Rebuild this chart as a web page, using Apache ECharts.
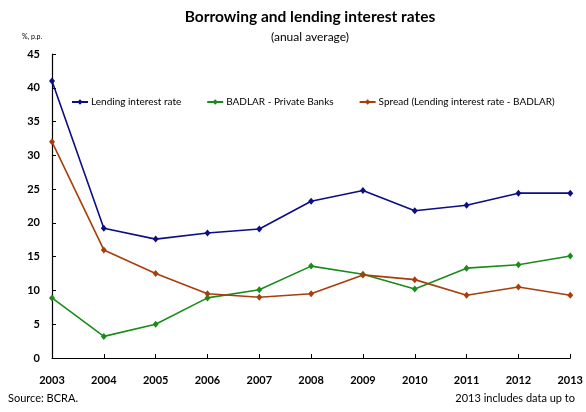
<!DOCTYPE html>
<html>
<head>
<meta charset="utf-8">
<style>
  html, body { margin: 0; padding: 0; background: #fff; }
  #chart { width: 586px; height: 412px; }
</style>
<script src="https://cdn.jsdelivr.net/npm/echarts@6/dist/echarts.min.js"></script>
</head>
<body>
<div id="chart"></div>
<script>
// Annual average rates, Argentina (%, p.p.)
const years = ['2003', '2004', '2005', '2006', '2007', '2008', '2009', '2010', '2011', '2012', '2013'];
const lendingRate = [41.0, 19.2, 17.6, 18.5, 19.1, 23.2, 24.8, 21.8, 22.6, 24.4, 24.4];
const badlarPrivate = [8.9, 3.2, 5.0, 8.9, 10.1, 13.6, 12.4, 10.2, 13.3, 13.8, 15.1];
const spread = [32.0, 16.0, 12.5, 9.5, 9.0, 9.5, 12.3, 11.6, 9.3, 10.5, 9.3];

const FONT = 'Lato, "Open Sans", sans-serif';
const chart = echarts.init(document.getElementById('chart'));

function lineSeries(name, data, color) {
  return {
    name: name,
    type: 'line',
    data: data,
    symbol: 'diamond',
    symbolSize: [6, 7],
    lineStyle: { color: color, width: 1.6 },
    itemStyle: { color: color },
    emphasis: { disabled: true },
    animation: false
  };
}

chart.setOption({
  backgroundColor: '#fff',
  textStyle: { fontFamily: FONT },
  title: [
    {
      text: 'Borrowing and lending interest rates',
      left: 305, top: 4, textAlign: 'center',
      textStyle: { fontFamily: FONT, fontSize: 15.5, fontWeight: 'bold', color: '#000' }
    },
    {
      text: '(anual average)',
      left: 305, top: 26, textAlign: 'center',
      textStyle: { fontFamily: FONT, fontSize: 12, fontWeight: 'normal', color: '#000' }
    }
  ],
  graphic: [
    { type: 'text', left: 22, top: 33,
      style: { text: '%, p.p.', font: '7px ' + FONT, fill: '#000' } },
    { type: 'text', left: 8, top: 393,
      style: { text: 'Source: BCRA.', font: '11px ' + FONT, fill: '#000' } },
    { type: 'text', right: 11, top: 393,
      style: { text: '2013 includes data up to', font: '11px ' + FONT, fill: '#000' } }
  ],
  legend: {
    top: 92, left: 66,
    itemWidth: 16, itemHeight: 7, itemGap: 25,
    textStyle: { fontFamily: FONT, fontSize: 10, color: '#000', padding: [0, 0, 0, -2] },
    data: ['Lending interest rate', 'BADLAR - Private Banks', 'Spread (Lending interest rate - BADLAR)']
  },
  grid: { left: 52, right: 13, top: 54, bottom: 54, containLabel: false },
  xAxis: {
    type: 'category',
    data: years,
    boundaryGap: false,
    axisLine: { lineStyle: { color: '#000', width: 1.2 } },
    axisTick: { inside: true, length: 4, lineStyle: { color: '#000' } },
    axisLabel: { color: '#000', fontWeight: 'bold', fontSize: 11, margin: 17, fontFamily: FONT },
    splitLine: { show: false }
  },
  yAxis: {
    type: 'value',
    min: 0, max: 45, interval: 5,
    axisLine: { show: true, lineStyle: { color: '#000', width: 1.2 } },
    axisTick: { show: true, inside: true, length: 4, lineStyle: { color: '#000' } },
    axisLabel: { color: '#000', fontWeight: 'bold', fontSize: 11, margin: 12, fontFamily: FONT },
    splitLine: { show: false }
  },
  series: [
    lineSeries('Lending interest rate', lendingRate, '#0d0d86'),
    lineSeries('BADLAR - Private Banks', badlarPrivate, '#1a8c1a'),
    lineSeries('Spread (Lending interest rate - BADLAR)', spread, '#a83e0c')
  ]
});
</script>
</body>
</html>
